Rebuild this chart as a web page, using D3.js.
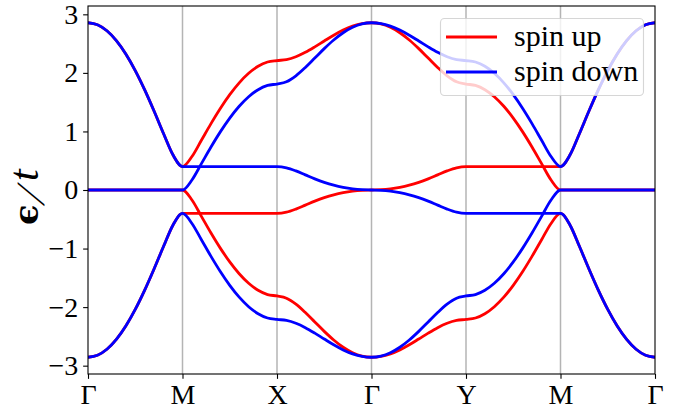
<!DOCTYPE html>
<html>
<head>
<meta charset="utf-8">
<script src="https://cdn.jsdelivr.net/npm/d3@7"></script>
<style>
  body { margin: 0; background: #fff; }
  svg { display: block; }
  .tick text { font-family: "Liberation Serif", "Times New Roman", serif; font-size: 28px; fill: #000; }
</style>
</head>
<body>
<svg id="chart" width="689" height="412"></svg>
<script>
// High-symmetry points along the k-path and the energy ticks
const kLabels = ["Γ", "M", "X", "Γ", "Y", "M", "Γ"];
const energyTicks = [-3, -2, -1, 0, 1, 2, 3];

// Ten samples per path segment, six segments
const samplesPerSegment = 10;
const kPos = d3.range((kLabels.length - 1) * samplesPerSegment + 1)
  .map(i => i / samplesPerSegment);

// Spin-up bands (energies in units of t), Γ→M→X→Γ→Y→M→Γ
const upBandA = [
  2.8566, 2.8221, 2.7196, 2.5517, 2.3230, 2.0396, 1.7100, 1.3449, 0.9612, 0.5965, 0.4000,
  0.5713, 0.8496, 1.1298, 1.3925, 1.6283, 1.8304, 1.9932, 2.1126, 2.1855, 2.2100,
  2.2269, 2.2756, 2.3505, 2.4435, 2.5445, 2.6433, 2.7307, 2.7987, 2.8419, 2.8566,
  2.8370, 2.7791, 2.6857, 2.5617, 2.4143, 2.2533, 2.0922, 1.9493, 1.8475, 1.8100,
  1.7855, 1.7126, 1.5932, 1.4304, 1.2283, 0.9925, 0.7298, 0.4496, 0.1713, 0.0000,
  0, 0, 0, 0, 0, 0, 0, 0, 0, 0
];
const upBandB = [
  0, 0, 0, 0, 0, 0, 0, 0, 0, 0, 0,
  -0.1713, -0.4496, -0.7298, -0.9925, -1.2283, -1.4304, -1.5932, -1.7126, -1.7855, -1.8100,
  -1.8475, -1.9493, -2.0922, -2.2533, -2.4143, -2.5617, -2.6857, -2.7791, -2.8370, -2.8566,
  -2.8419, -2.7987, -2.7307, -2.6433, -2.5445, -2.4435, -2.3505, -2.2756, -2.2269, -2.2100,
  -2.1855, -2.1126, -1.9932, -1.8304, -1.6283, -1.3925, -1.1298, -0.8496, -0.5713, -0.4000,
  -0.5965, -0.9612, -1.3449, -1.7100, -2.0396, -2.3230, -2.5517, -2.7196, -2.8221, -2.8566
];
const upBandC = [
  -2.8566, -2.8221, -2.7196, -2.5517, -2.3230, -2.0396, -1.7100, -1.3449, -0.9612, -0.5965, -0.4000,
  -0.4, -0.4, -0.4, -0.4, -0.4, -0.4, -0.4, -0.4, -0.4, -0.4,
  -0.3794, -0.3263, -0.2583, -0.1902, -0.1302, -0.0816, -0.0450, -0.0196, -0.0049, 0.0000,
  0.0049, 0.0196, 0.0450, 0.0816, 0.1302, 0.1902, 0.2583, 0.3263, 0.3794, 0.4000,
  0.4, 0.4, 0.4, 0.4, 0.4, 0.4, 0.4, 0.4, 0.4, 0.4,
  0.5965, 0.9612, 1.3449, 1.7100, 2.0396, 2.3230, 2.5517, 2.7196, 2.8221, 2.8566
];

// Spin-down bands
const downBandA = [
  2.8566, 2.8221, 2.7196, 2.5517, 2.3230, 2.0396, 1.7100, 1.3449, 0.9612, 0.5965, 0.4000,
  0.4, 0.4, 0.4, 0.4, 0.4, 0.4, 0.4, 0.4, 0.4, 0.4,
  0.3794, 0.3263, 0.2583, 0.1902, 0.1302, 0.0816, 0.0450, 0.0196, 0.0049, 0.0000,
  -0.0049, -0.0196, -0.0450, -0.0816, -0.1302, -0.1902, -0.2583, -0.3263, -0.3794, -0.4000,
  -0.4, -0.4, -0.4, -0.4, -0.4, -0.4, -0.4, -0.4, -0.4, -0.4,
  -0.5965, -0.9612, -1.3449, -1.7100, -2.0396, -2.3230, -2.5517, -2.7196, -2.8221, -2.8566
];
const downBandB = [
  0, 0, 0, 0, 0, 0, 0, 0, 0, 0, 0,
  0.1713, 0.4496, 0.7298, 0.9925, 1.2283, 1.4304, 1.5932, 1.7126, 1.7855, 1.8100,
  1.8475, 1.9493, 2.0922, 2.2533, 2.4143, 2.5617, 2.6857, 2.7791, 2.8370, 2.8566,
  2.8419, 2.7987, 2.7307, 2.6433, 2.5445, 2.4435, 2.3505, 2.2756, 2.2269, 2.2100,
  2.1855, 2.1126, 1.9932, 1.8304, 1.6283, 1.3925, 1.1298, 0.8496, 0.5713, 0.4000,
  0.5965, 0.9612, 1.3449, 1.7100, 2.0396, 2.3230, 2.5517, 2.7196, 2.8221, 2.8566
];
const downBandC = [
  -2.8566, -2.8221, -2.7196, -2.5517, -2.3230, -2.0396, -1.7100, -1.3449, -0.9612, -0.5965, -0.4000,
  -0.5713, -0.8496, -1.1298, -1.3925, -1.6283, -1.8304, -1.9932, -2.1126, -2.1855, -2.2100,
  -2.2269, -2.2756, -2.3505, -2.4435, -2.5445, -2.6433, -2.7307, -2.7987, -2.8419, -2.8566,
  -2.8370, -2.7791, -2.6857, -2.5617, -2.4143, -2.2533, -2.0922, -1.9493, -1.8475, -1.8100,
  -1.7855, -1.7126, -1.5932, -1.4304, -1.2283, -0.9925, -0.7298, -0.4496, -0.1713, 0.0000,
  0, 0, 0, 0, 0, 0, 0, 0, 0, 0
];

const series = [
  { name: "spin up", color: "#ff0000", bands: [upBandA, upBandB, upBandC] },
  { name: "spin down", color: "#0000ff", bands: [downBandA, downBandB, downBandC] }
];

const svg = d3.select("#chart");
const W = 689, H = 412;
const margin = { top: 6, right: 34, bottom: 38, left: 88 };
const x0 = margin.left, x1 = W - margin.right;
const y0 = margin.top, y1 = H - margin.bottom;

const emax = d3.max(series.flatMap(s => s.bands.flat()), v => Math.abs(v));
const ylim = emax * 1.1;  // 5% padding on each side of the data span

const x = d3.scaleLinear().domain([0, kLabels.length - 1]).range([x0, x1]);
const y = d3.scaleLinear().domain([-ylim, ylim]).range([y1, y0]);

svg.append("clipPath").attr("id", "plot-clip")
  .append("rect").attr("x", x0).attr("y", y0).attr("width", x1 - x0).attr("height", y1 - y0);

// Vertical guides at the high-symmetry points
svg.append("g").selectAll("line")
  .data(d3.range(1, kLabels.length - 1))
  .join("line")
  .attr("x1", d => x(d)).attr("x2", d => x(d))
  .attr("y1", y0).attr("y2", y1)
  .attr("stroke", "#b4b4b4").attr("stroke-width", 1.5);

// Band lines
const line = d3.line()
  .x((d, i) => x(kPos[i]))
  .y(d => y(d))
  .curve(d3.curveMonotoneX);

const plot = svg.append("g").attr("clip-path", "url(#plot-clip)");
series.forEach(s => {
  plot.append("g").selectAll("path")
    .data(s.bands)
    .join("path")
    .attr("d", line)
    .attr("fill", "none")
    .attr("stroke", s.color)
    .attr("stroke-width", 2.8)
    .attr("stroke-linejoin", "round")
    .attr("stroke-linecap", "butt");
});

// Axes
const tickLen = 4.86, tickPad = 4.86;
const xAxis = d3.axisBottom(x)
  .tickValues(d3.range(kLabels.length))
  .tickFormat(i => kLabels[i])
  .tickSize(tickLen).tickSizeOuter(0).tickPadding(tickPad);
const yAxis = d3.axisLeft(y)
  .tickValues(energyTicks)
  .tickFormat(d3.format("d"))
  .tickSize(tickLen).tickSizeOuter(0).tickPadding(tickPad);

const gx = svg.append("g").attr("transform", `translate(0,${y1})`).call(xAxis);
const gy = svg.append("g").attr("transform", `translate(${x0},0)`).call(yAxis);
[gx, gy].forEach(g => {
  g.select(".domain").remove();
  g.selectAll(".tick line").attr("stroke", "#000").attr("stroke-width", 1.1);
});

// Frame
svg.append("rect")
  .attr("x", x0).attr("y", y0).attr("width", x1 - x0).attr("height", y1 - y0)
  .attr("fill", "none").attr("stroke", "#000").attr("stroke-width", 1.1);

// Y axis label: ϵ / t, set vertically
const ylab = svg.append("g")
  .attr("transform", `translate(38,${(y0 + y1) / 2}) rotate(-90)`);
ylab.append("text")
  .attr("x", -35).attr("y", 0)
  .attr("font-family", "'DejaVu Serif', serif")
  .attr("font-weight", "bold")
  .attr("font-size", 34)
  .text("ϵ");
ylab.append("text")
  .attr("transform", "translate(-16,6) skewX(-26)")
  .attr("font-family", "'Liberation Serif', serif")
  .attr("font-size", 40)
  .text("/");
ylab.append("text")
  .attr("x", 9).attr("y", 0)
  .attr("font-family", "'Liberation Serif', serif")
  .attr("font-style", "italic")
  .attr("font-size", 42)
  .text("t");

// Legend
const lg = svg.append("g");
lg.append("rect")
  .attr("x", 440.5).attr("y", 18.5).attr("width", 203).attr("height", 77).attr("rx", 4)
  .attr("fill", "#fff").attr("fill-opacity", 0.8)
  .attr("stroke", "#cccccc").attr("stroke-opacity", 0.8).attr("stroke-width", 1.1);
series.forEach((s, i) => {
  const ly = 37 + i * 35;
  lg.append("line")
    .attr("x1", 446).attr("x2", 497).attr("y1", ly).attr("y2", ly)
    .attr("stroke", s.color).attr("stroke-width", 2.8);
  lg.append("text")
    .attr("x", 514).attr("y", ly + 9)
    .attr("font-family", "'Liberation Serif', serif")
    .attr("font-size", 30)
    .text(s.name);
});
</script>
</body>
</html>
